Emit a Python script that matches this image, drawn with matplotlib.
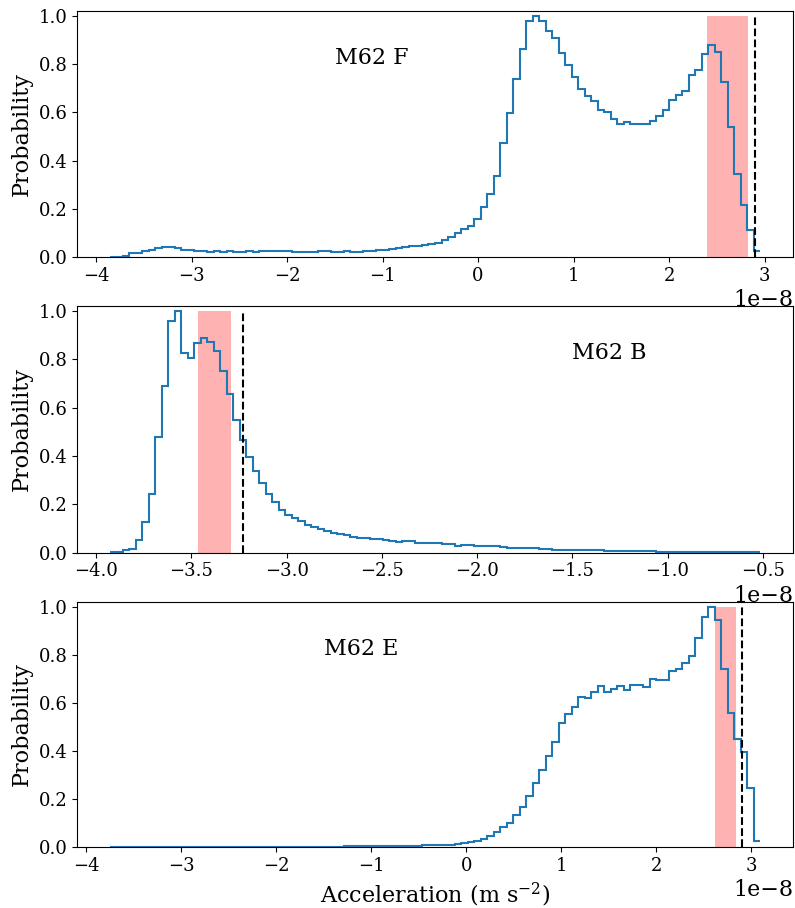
import numpy as np
import matplotlib
matplotlib.use("Agg")
import matplotlib.pyplot as plt

plt.rcParams['font.family'] = ['DejaVu Serif']
plt.rcParams['mathtext.fontset'] = 'dejavuserif'

SCALE = 1e-8

# ---------------- Panel F ----------------
f_range = (-3.86, 2.957)
f_values = [
    0.001, 0.002, 0.004, 0.017, 0.018, 0.025, 0.031, 0.036, 0.040, 0.040,
    0.036, 0.030, 0.028, 0.026, 0.025, 0.022, 0.024, 0.019, 0.023, 0.020,
    0.021, 0.024, 0.020, 0.023, 0.024, 0.024, 0.024, 0.024, 0.022, 0.021,
    0.020, 0.022, 0.024, 0.024, 0.022, 0.022, 0.026, 0.021, 0.020, 0.025,
    0.025, 0.028, 0.031, 0.033, 0.037, 0.040, 0.044, 0.046, 0.050, 0.055,
    0.060, 0.069, 0.083, 0.100, 0.115, 0.130, 0.156, 0.207, 0.263, 0.336,
    0.473, 0.595, 0.740, 0.864, 0.978, 1.000, 0.978, 0.938, 0.906, 0.844,
    0.798, 0.747, 0.696, 0.668, 0.646, 0.611, 0.600, 0.574, 0.553, 0.559,
    0.553, 0.550, 0.550, 0.564, 0.585, 0.609, 0.653, 0.671, 0.687, 0.754,
    0.777, 0.841, 0.880, 0.851, 0.726, 0.539, 0.346, 0.217, 0.111, 0.025,
]
f_span = (2.40, 2.83)
f_line = 2.905

# ---------------- Panel B ----------------
b_range = (-3.93, -0.512)
b_values = [
    0.002, 0.004, 0.010, 0.017, 0.053, 0.125, 0.242, 0.480, 0.688, 0.956,
    1.000, 0.827, 0.807, 0.868, 0.889, 0.873, 0.835, 0.752, 0.655, 0.547,
    0.464, 0.397, 0.337, 0.287, 0.242, 0.208, 0.177, 0.155, 0.142, 0.129,
    0.115, 0.107, 0.096, 0.089, 0.083, 0.078, 0.075, 0.066, 0.062, 0.060,
    0.057, 0.057, 0.051, 0.047, 0.046, 0.047, 0.047, 0.039, 0.040, 0.042,
    0.039, 0.037, 0.035, 0.029, 0.030, 0.030, 0.029, 0.029, 0.026, 0.026,
    0.022, 0.020, 0.018, 0.018, 0.018, 0.018, 0.017, 0.017, 0.013, 0.011,
    0.011, 0.011, 0.011, 0.010, 0.010, 0.010, 0.009, 0.008, 0.006, 0.006,
    0.006, 0.006, 0.005, 0.005, 0.004, 0.004, 0.004, 0.003, 0.003, 0.003,
    0.003, 0.002, 0.002, 0.002, 0.002, 0.002, 0.002, 0.001, 0.001, 0.001,
]
b_span = (-3.468, -3.293)
b_line = -3.231

# ---------------- Panel E ----------------
e_range = (-3.755, 3.098)
e_values = [
    0.002, 0.002, 0.002, 0.002, 0.002, 0.002, 0.002, 0.002, 0.002, 0.002,
    0.002, 0.002, 0.002, 0.002, 0.002, 0.002, 0.002, 0.002, 0.002, 0.002,
    0.002, 0.002, 0.002, 0.002, 0.002, 0.002, 0.003, 0.003, 0.003, 0.003,
    0.003, 0.003, 0.003, 0.003, 0.003, 0.003, 0.004, 0.004, 0.004, 0.004,
    0.005, 0.005, 0.005, 0.005, 0.006, 0.006, 0.007, 0.007, 0.008, 0.008,
    0.009, 0.009, 0.010, 0.012, 0.017, 0.022, 0.028, 0.035, 0.047, 0.065,
    0.086, 0.102, 0.134, 0.169, 0.215, 0.266, 0.321, 0.381, 0.436, 0.518,
    0.554, 0.584, 0.626, 0.619, 0.647, 0.668, 0.647, 0.657, 0.668, 0.654,
    0.672, 0.675, 0.665, 0.698, 0.693, 0.695, 0.733, 0.740, 0.767, 0.795,
    0.868, 0.958, 1.000, 0.945, 0.740, 0.557, 0.449, 0.397, 0.245, 0.026,
]
e_span = (2.624, 2.84)
e_line = 2.905

labels = ["M62 F", "M62 B", "M62 E"]
text_pos = (-1.5, 0.8)

panels = [
    (f_range, f_values, f_span, f_line, labels[0]),
    (b_range, b_values, b_span, b_line, labels[1]),
    (e_range, e_values, e_span, e_line, labels[2]),
]

W, H = 795, 908
fig = plt.figure(figsize=(W / 100, H / 100), dpi=100)

boxes = [(77, 11, 793, 257), (77, 306, 793, 552.7), (77, 601.7, 793, 847.3)]

for i, ((lo, hi), vals, span, vline, lab) in enumerate(panels):
    x0, y0, x1, y1 = boxes[i]
    ax = fig.add_axes([x0 / W, 1 - y1 / H, (x1 - x0) / W, (y1 - y0) / H])
    vals = np.array(vals)
    edges = np.linspace(lo, hi, len(vals) + 1) * SCALE
    ax.fill_between(np.array(span) * SCALE, 0, 1, color='red', alpha=0.3,
                    linewidth=0, zorder=1)
    ax.stairs(vals, edges, baseline=None, color='#1f77b4', linewidth=1.5, zorder=3)
    ax.vlines(vline * SCALE, 0, 1, colors='k', linestyles='dashed', linewidth=1.5, zorder=4)
    rng = (hi - lo) * 0.05
    ax.set_xlim((lo - rng) * SCALE, (hi + rng) * SCALE)
    ax.set_ylim(0, 1.02)
    ax.set_yticks([0, 0.2, 0.4, 0.6, 0.8, 1.0])
    ax.tick_params(labelsize=13)
    ax.xaxis.get_offset_text().set_fontsize(16)
    ax.set_ylabel("Probability", fontsize=16)
    ax.text(text_pos[0] * SCALE, text_pos[1], lab, fontsize=16, ha='left', va='baseline')
    if i == 2:
        ax.set_xlabel("Acceleration (m s$^{-2}$)", fontsize=16)

fig.savefig("out.png", dpi=100)
